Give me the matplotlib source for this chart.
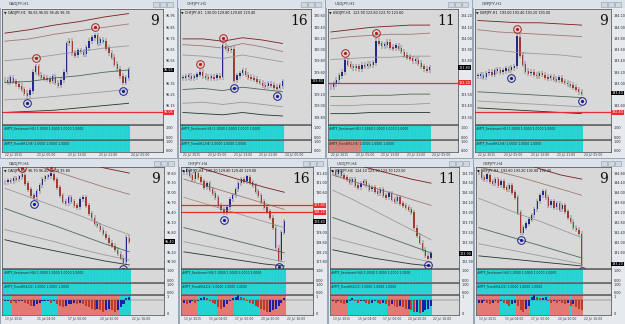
#!/usr/bin/env python3
"""Eight MT4-style chart windows (H1 row on top, H4 row below)."""

import matplotlib

matplotlib.use("Agg")
import matplotlib.pyplot as plt
import matplotlib.transforms as mtrans
from matplotlib.patches import Rectangle
import numpy as np

W, H = 625, 324

symbols = ["CADJPY,H1", "CHFJPY,H1", "USDJPY,H1", "GBPJPY,H1",
           "CADJPY,H4", "CHFJPY,H4", "USDJPY,H4", "GBPJPY,H4"]
counts = ["9", "16", "11", "9", "9", "16", "11", "9"]

# closes in chart units (0 = bottom of price pane, 100 = top)
c1 = [38, 36, 40, 37, 35, 33, 30, 27, 25, 29, 45, 50, 43, 41, 40, 39, 37, 41, 36, 34, 38,
      45, 70, 72, 62, 60, 64, 63, 61, 66, 72, 75, 77, 70, 73, 72, 66, 62, 58, 52, 48, 42, 36, 40, 47]
c2 = [40, 41, 42, 40, 41, 43, 45, 42, 41, 40, 41, 40, 42, 41, 68, 66, 64, 65, 38,
      42, 44, 46, 43, 41, 40, 39, 37, 36, 34, 33, 35, 34, 32, 31, 33, 37]
c3 = [32, 35, 38, 42, 45, 55, 52, 50, 49, 50, 48, 51, 50, 52, 51, 53, 72, 70, 68, 69,
      71, 67, 66, 68, 66, 63, 60, 58, 57, 55, 56, 53, 50, 48, 47, 49]
c4 = [42, 43, 41, 44, 45, 43, 46, 47, 45, 46, 48, 47, 49, 50, 76, 60, 52, 46, 44, 45,
      43, 42, 44, 43, 41, 40, 41, 39, 38, 40, 37, 36, 35, 34, 32, 30, 28, 27]
c5 = [85, 87, 86, 89, 88, 90, 92, 84, 78, 72, 70, 76, 82, 88, 90, 91, 93, 88, 80, 72, 66, 64,
      70, 66, 62, 60, 68, 70, 62, 54, 50, 44, 42, 38, 34, 30, 25, 22, 18, 14, 10, 6, 30, 26]
c6 = [95, 97, 92, 88, 94, 90, 86, 80, 84, 78, 74, 70, 62, 58, 55, 60, 68, 72, 78, 84,
      88, 86, 90, 85, 82, 76, 72, 66, 60, 56, 50, 40, 20, 8, 35, 46]
c7 = [95, 93, 96, 92, 90, 88, 85, 88, 82, 80, 84, 86, 82, 78, 80, 76, 74, 78, 72, 70,
      74, 68, 66, 70, 64, 62, 60, 58, 55, 40, 32, 25, 18, 12, 10, 14]
c8 = [95, 90, 88, 92, 86, 84, 88, 82, 86, 80, 78, 82, 75, 70, 55, 35, 40, 44, 48, 52,
      58, 66, 72, 76, 70, 62, 66, 60, 64, 58, 62, 56, 50, 46, 40, 38, 34, 4]
closes = [c1, c2, c3, c4, c5, c6, c7, c8]

# channel lines, values at evenly spaced anchors across the data
bands = [
    [[79, 82, 86, 89, 93, 96], [72, 74, 78, 81, 84, 87], [55, 57, 60, 63, 66, 68],
     [36, 37, 40, 42, 45, 47], [21, 22, 24, 26, 28, 30], [10, 11, 12, 14, 16, 18]],
    [[74, 74, 72, 75, 73, 70], [69, 68, 66, 70, 67, 63], [60, 59, 57, 60, 57, 54],
     [30, 31, 29, 32, 30, 28], [18, 19, 17, 19, 17, 15], [10, 9, 8, 10, 8, 7]],
    [[80, 82, 84, 85, 86, 86], [74, 76, 77, 78, 78, 79], [56, 57, 58, 58, 59, 59],
     [24, 24, 25, 25, 26, 26], [16, 16, 17, 17, 17, 18], [9, 9, 10, 10, 10, 10]],
    [[90, 89, 88, 88, 87, 86], [82, 80, 79, 78, 77, 76], [66, 64, 62, 61, 60, 58],
     [28, 27, 26, 25, 24, 23], [20, 19, 18, 17, 16, 15], [14, 13, 12, 11, 10, 9]],
    [[130, 122, 113, 106, 99, 94], [110, 103, 96, 88, 80, 73], [79, 70, 61, 52, 42, 33],
     [59, 50, 42, 33, 24, 16], [38, 32, 26, 19, 13, 8], [28, 22, 17, 12, 7, 3]],
    [[105, 98, 92, 86, 80, 75], [88, 82, 76, 70, 64, 58], [70, 64, 58, 52, 46, 40],
     [40, 35, 30, 25, 20, 15], [26, 22, 18, 14, 10, 6], [16, 13, 10, 7, 4, 2]],
    [[108, 103, 98, 93, 88, 84], [92, 86, 80, 74, 68, 62], [77, 68, 58, 48, 38, 28],
     [50, 43, 36, 29, 22, 15], [30, 25, 20, 15, 10, 6], [18, 14, 10, 7, 4, 2]],
    [[118, 112, 105, 98, 92, 88], [100, 95, 90, 84, 78, 72], [69, 61, 53, 46, 38, 30],
     [40, 34, 28, 22, 16, 10], [24, 20, 16, 12, 8, 4], [12, 10, 8, 6, 4, 2]],
]
band_colors = ["#7a1c1c", "#a07878", "#9a9a9a", "#4d6a55", "#9a9a9a", "#24352c"]

# swing markers: (bar index, "hi"/"lo")
marks = [
    [(32, "hi"), (11, "hi"), (8, "lo"), (42, "lo")],
    [(14, "hi"), (18, "lo"), (33, "lo"), (6, "hi")],
    [(5, "hi"), (16, "hi")],
    [(14, "hi"), (37, "lo"), (12, "lo")],
    [(6, "hi"), (10, "lo"), (16, "hi"), (41, "lo")],
    [(1, "hi"), (14, "lo"), (33, "lo")],
    [(34, "lo")],
    [(15, "lo"), (37, "lo")],
]
red_levels = [[10], [], [36], [10], [], [62, 55], [], []]

# price scale labels (top to bottom)
prices = [
    ["96.95", "96.85", "96.75", "96.65", "96.55", "96.45", "96.35", "96.25", "96.15", "96.05"],
    ["130.60", "130.40", "130.20", "130.00", "129.80", "129.60", "129.40", "129.20", "129.00", "128.80"],
    ["124.20", "124.10", "124.00", "123.90", "123.80", "123.70", "123.60", "123.50", "123.40", "123.30"],
    ["194.20", "194.00", "193.80", "193.60", "193.40", "193.20", "193.00", "192.80", "192.60", "192.40"],
    ["97.60", "97.30", "97.00", "96.70", "96.40", "96.10", "95.80", "95.50", "95.20", "94.90"],
    ["131.40", "131.00", "130.60", "130.20", "129.80", "129.40", "129.00", "128.60", "128.20", "127.80"],
    ["124.70", "124.50", "124.30", "124.10", "123.90", "123.70", "123.50", "123.30", "123.10", "122.90"],
    ["194.80", "194.40", "194.00", "193.60", "193.20", "192.80", "192.40", "192.00", "191.60", "191.20"],
]

# second indicator of the H1 row: number of leading red bars
top_ind2_red = [0, 0, 11, 0]

# H4 row histogram and zones
h5 = [-1, -1, -2, -1, -2, -1, -1, -2, -3, -4, -4, -3, -2, -1, -1, -1, -2, -1, -3, -4, -5, -4,
      -3, -3, -2, -3, -2, -3, -4, -5, -6, -7, -6, -7, -8, -7, -6, -7, -8, -7, -5, -3, 1, 2]
h6 = [-2, -3, -2, -1, -2, -1, 1, 2, 1, -1, -2, -3, -5, -6, -5, -3, -1, 1,
      2, 3, 2, 1, -1, -2, -3, -4, -5, -6, -7, -8, -8, -7, -6, -4, -2, 1]
h7 = [-1, -2, -1, -2, -3, -2, -1, 1, -1, -2, -1, -1, -2, -3, -2, -1, -2, -3,
      -2, -3, -4, -3, -4, -5, -4, -5, -6, -6, -7, -8, -8, -9, -8, -7, -6, -4]
h8 = [-2, -2, -1, -2, -3, -2, -1, -2, -1, -2, -3, -4, -3, -2, -4, -7, -8, -6, -4,
      2, 3, 2, 1, 1, 2, -1, -2, -1, -2, -1, -2, -3, -2, -4, -3, -5, -6, -7]
hists = [h5, h6, h7, h8]
zone_edges = [[0, 3, 13, 19, 40, 44], [0, 5, 12, 18, 27, 36],
              [0, 6, 20, 28, 36], [0, 8, 14, 19, 26, 33, 34, 38]]
zone_kinds = [["c", "r", "c", "r", "c"], ["r", "c", "r", "c", "r"],
              ["r", "c", "r", "c"], ["r", "c", "r", "c", "r", "c", "r"]]

dates_top = ["22 Jul 2015", "23 Jul 05:00", "23 Jul 13:00", "23 Jul 21:00", "24 Jul 05:00"]
dates_bot = ["13 Jul 2015", "15 Jul 04:00", "17 Jul 00:00", "20 Jul 20:00", "22 Jul 16:00"]

CHART_BG = "#d8d8d8"
CYAN = "#22d3d3"
SALMON = "#e07a72"
BLUE = "#1a1fa6"
RED = "#c0392b"

# window placement in pixels: (x0, x1)
win_x = [(0, 177), (178, 325), (326, 472), (473, 625),
         (0, 178), (179, 327), (328, 473), (474, 625)]

fig = plt.figure(figsize=(W / 100, H / 100), dpi=100, facecolor="#c5cfdb")


def add_ax(x0, y0, x1, y1):
    return fig.add_axes([x0 / W, 1 - y1 / H, (x1 - x0) / W, (y1 - y0) / H])


def frame(x0, y0, x1, y1):
    fig.patches.append(Rectangle((x0 / W, 1 - y1 / H), (x1 - x0) / W, (y1 - y0) / H,
                                 transform=fig.transFigure, facecolor="#e6eaef",
                                 edgecolor="#8e9cae", lw=0.6, zorder=-5))
    fig.patches.append(Rectangle((x0 / W, 1 - (y0 + 8) / H), (x1 - x0) / W, 8 / H,
                                 transform=fig.transFigure, facecolor="#dbe2ea",
                                 edgecolor="none", zorder=-4))
    for k in range(3):
        bx = x1 - 24 + k * 7
        fig.patches.append(Rectangle((bx / W, 1 - (y0 + 7) / H), 6 / W, 5 / H,
                                     transform=fig.transFigure, facecolor="#cfd7e1",
                                     edgecolor="#8e9cae", lw=0.4, zorder=-3))


def style(ax, n, ylim):
    ax.set_facecolor(CHART_BG)
    ax.set_xlim(-1, n / 0.8)
    ax.set_ylim(*ylim)
    ax.set_xticks([])
    ax.yaxis.tick_right()
    ax.tick_params(axis="y", labelsize=2.4, length=1, width=0.3, pad=0.8, colors="#222")
    for s in ax.spines.values():
        s.set_color("#444")
        s.set_linewidth(0.5)


def main_pane(ax, k):
    c = np.array(closes[k], dtype=float)
    n = len(c)
    o = np.r_[c[0], c[:-1]]
    x = np.arange(n)
    style(ax, n, (0, 100))

    for vals, col in zip(bands[k], band_colors):
        ax.plot(np.linspace(0, n - 1, len(vals)), vals, color=col, lw=0.6)
    for lvl in red_levels[k]:
        ax.axhline(lvl, color="#e03030", lw=0.9)

    lo = np.minimum(o, c)
    hi = np.maximum(o, c)
    ax.vlines(x, lo - 2.5, hi + 2.5, color="#444", lw=0.35)
    up = c >= o
    ax.bar(x[up], (c - o)[up] + 0.6, bottom=o[up], width=0.5, color=BLUE, lw=0)
    ax.bar(x[~up], (c - o)[~up] - 0.6, bottom=o[~up], width=0.5, color=RED, lw=0)

    for i, side in marks[k]:
        if side == "hi":
            y, col = hi[i] + 7, "#b02020"
        else:
            y, col = lo[i] - 7, "#1a1f8a"
        ax.plot(i, y, "o", ms=5.5, mfc="none", mec=col, mew=0.7)
        ax.plot(i, y, "o", ms=1.3, color=col)

    # price scale, leaving room for the boxed labels
    boxed = list(red_levels[k]) + [c[-1]]
    pos = np.linspace(94, 6, len(prices[k]))
    keep = [j for j, p in enumerate(pos) if min(abs(p - b) for b in boxed) > 5]
    ax.set_yticks(pos[keep])
    ax.set_yticklabels([prices[k][j] for j in keep])

    tr = mtrans.blended_transform_factory(ax.transAxes, ax.transData)
    for j, lvl in enumerate(red_levels[k]):
        ax.text(1.005, lvl, prices[k][-1 - j], transform=tr, fontsize=2.4, color="white",
                va="center", ha="left", bbox=dict(fc="#e03030", ec="none", pad=0.3))
    ax.text(1.005, c[-1], prices[k][4], transform=tr, fontsize=2.4, color="white",
            va="center", ha="left", bbox=dict(fc="black", ec="none", pad=0.3))

    ax.text(0.01, 0.985, "\u25bc " + symbols[k] + "  " + " ".join(prices[k][3:7]),
            transform=ax.transAxes, fontsize=2.4, va="top", color="#111")
    ax.text(0.975, 0.955, counts[k], transform=ax.transAxes, ha="right", va="top",
            fontsize=10, family="DejaVu Serif", color="#111")


def flag_pane(ax, n, red_first, label):
    style(ax, n, (0, 1))
    x = np.arange(n)
    cols = [SALMON if i < red_first else CYAN for i in x]
    ax.bar(x, 1, width=1.0, color=cols, edgecolor="#55e2e2", lw=0.15)
    ax.set_yticks([0.85, 0.1])
    ax.set_yticklabels(["1.00", "0.00"])
    ax.text(0.01, 0.9, label, transform=ax.transAxes, fontsize=2.2, va="top", color="#222")


def hist_pane(ax, j, n):
    h = np.array(hists[j], dtype=float)
    style(ax, n, (-10, 3))
    edges = zone_edges[j]
    for a, b, kind in zip(edges[:-1], edges[1:], zone_kinds[j]):
        ax.axvspan(a - 0.5, b - 0.5, color=SALMON if kind == "r" else CYAN, lw=0)
    x = np.arange(n)
    prev = np.r_[h[0], h[:-1]]
    ax.bar(x, h, width=0.7, color=np.where(h >= prev, BLUE, RED), lw=0)
    ax.axhline(0, color="#555", lw=0.3)
    ax.set_yticks([2, -9])
    ax.set_yticklabels(["1", "0"])


for k, (x0, x1) in enumerate(win_x):
    top = k < 4
    n = len(closes[k])
    if top:
        y0, y1 = 0, 158
    else:
        y0, y1 = 159, 324
    frame(x0, y0, x1, y1)
    fig.text((x0 + 9) / W, 1 - (y0 + 4.5) / H, symbols[k], fontsize=2.8,
             va="center", color="#333")

    cx0, cx1 = x0 + 2, x1 - 14
    if top:
        main_pane(add_ax(cx0, y0 + 9, cx1, y0 + 124), k)
        flag_pane(add_ax(cx0, y0 + 125, cx1, y0 + 139), n, 0,
                  "#MTF_Sentiment(H1) 1.0000 1.0000 1.0000 1.0000")
        flag_pane(add_ax(cx0, y0 + 140, cx1, y0 + 152), n, top_ind2_red[k],
                  "#MTF_Trend(H1,H4) 1.0000 1.0000 1.0000")
        date_y = y0 + 155
        dates = dates_top
    else:
        main_pane(add_ax(cx0, y0 + 8, cx1, y0 + 109), k)
        flag_pane(add_ax(cx0, y0 + 110, cx1, y0 + 123), n, 0,
                  "#MTF_Sentiment(H4) 1.0000 1.0000 1.0000 1.0000")
        flag_pane(add_ax(cx0, y0 + 124, cx1, y0 + 135), n, 0,
                  "#MTF_Trend(H4,D1) 1.0000 1.0000 1.0000")
        hist_pane(add_ax(cx0, y0 + 136, cx1, y0 + 156), k - 4, n)
        date_y = y0 + 160
        dates = dates_bot
    for d, fx in zip(dates, np.linspace(0.02, 0.8, len(dates))):
        fig.text((cx0 + fx * (cx1 - cx0)) / W, 1 - date_y / H, d, fontsize=2.2,
                 va="center", color="#333")

fig.savefig("out.png", dpi=100, facecolor=fig.get_facecolor())
